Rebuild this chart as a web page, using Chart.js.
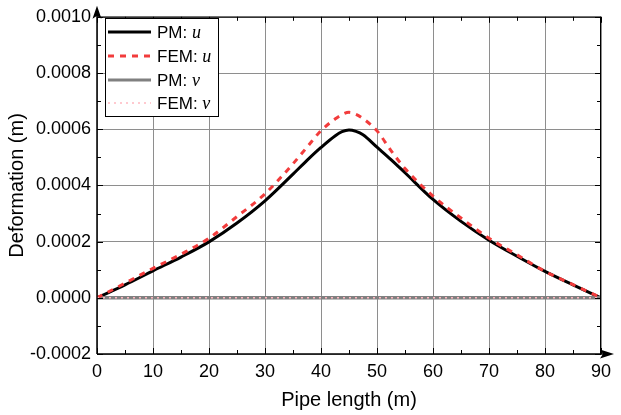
<!DOCTYPE html>
<html>
<head>
<meta charset="utf-8">
<script src="https://cdn.jsdelivr.net/npm/chart.js@4/dist/chart.umd.min.js"></script>
<style>
  html, body { margin: 0; padding: 0; background: #fff; }
  #wrap { width: 621px; height: 415px; }
</style>
</head>
<body>
<div id="wrap"><canvas id="c" width="621" height="415"></canvas></div>
<script>
// Position along the pipe (m)
const positions = [0, 5, 10, 15, 20, 25, 30, 35, 37.5, 40, 42.5, 43.75, 45, 46.25, 47.5, 50, 52.5, 55, 60, 65, 70, 75, 80, 85, 90];
// Horizontal deformation u (m)
const pmU  = [0, 0.000046, 0.000096, 0.000145, 0.000199, 0.000266, 0.000345, 0.000440, 0.000489, 0.000535, 0.000576, 0.000591, 0.000597,
              0.000592, 0.000580, 0.000536, 0.000492, 0.000445, 0.000350, 0.000272, 0.000205, 0.000148, 0.000094, 0.000046, 0];
const femU = [0, 0.000052, 0.000105, 0.000155, 0.000212, 0.000289, 0.000370, 0.000477, 0.000536, 0.000595, 0.000636, 0.000652, 0.000660,
              0.000653, 0.000638, 0.000594, 0.000524, 0.000460, 0.000362, 0.000284, 0.000212, 0.000153, 0.000094, 0.000047, 0];
// Vertical deformation v (m)
const vPositions = [0, 30, 60, 90];
const pmV  = [0, 0, 0, 0];
const femV = [0, 0, 0, 0];

const xTicks = [0, 10, 20, 30, 40, 50, 60, 70, 80, 90];
const yTicks = [-0.0002, 0, 0.0002, 0.0004, 0.0006, 0.0008, 0.0010];

const seriesNames   = ['PM', 'FEM', 'PM', 'FEM'];
const seriesSymbols = ['u', 'u', 'v', 'v'];

const pts = (xs, ys) => xs.map((x, i) => ({ x: x, y: ys[i] }));

const SANS = '"Liberation Sans", Arial, sans-serif';
const SERIF = '"Liberation Serif", "Times New Roman", serif';

const lineStyles = [
  { color: '#000000', width: 3, dash: [] },
  { color: '#f23c3c', width: 3, dash: [6, 6] },
  { color: '#808080', width: 3.5, dash: [] },
  { color: '#ffb8c0', width: 1.5, dash: [2, 4] }
];

// Axes, inward ticks, frame and arrows
const framePlugin = {
  id: 'frame',
  afterDatasetsDraw(chart) {
    const { ctx, chartArea: a, scales: { x, y } } = chart;
    ctx.save();
    ctx.strokeStyle = '#000';
    // top and right frame
    ctx.lineWidth = 1;
    ctx.beginPath();
    ctx.moveTo(a.left, a.top + 0.5); ctx.lineTo(a.right, a.top + 0.5);
    ctx.moveTo(a.right - 0.5, a.top); ctx.lineTo(a.right - 0.5, a.bottom);
    ctx.stroke();
    // bottom and left axes
    ctx.lineWidth = 1.5;
    ctx.beginPath();
    ctx.moveTo(a.left, a.bottom); ctx.lineTo(a.right + 4, a.bottom);
    ctx.moveTo(a.left, a.bottom); ctx.lineTo(a.left, a.top - 4);
    ctx.stroke();
    // ticks
    ctx.lineWidth = 1;
    ctx.beginPath();
    for (let v = 0; v <= 90; v += 5) {
      const px = Math.round(x.getPixelForValue(v)) + 0.5;
      const len = v % 10 === 0 ? 6 : 4;
      ctx.moveTo(px, a.bottom); ctx.lineTo(px, a.bottom - len);
      ctx.moveTo(px, a.top); ctx.lineTo(px, a.top + len);
    }
    for (let k = -2; k <= 10; k++) {
      const py = Math.round(y.getPixelForValue(k * 0.0001)) + 0.5;
      const len = k % 2 === 0 ? 6 : 4;
      ctx.moveTo(a.left, py); ctx.lineTo(a.left + len, py);
      ctx.moveTo(a.right, py); ctx.lineTo(a.right - len, py);
    }
    ctx.stroke();
    // arrow heads
    ctx.fillStyle = '#000';
    const xa = a.left, ya = a.top;
    ctx.beginPath();
    ctx.moveTo(xa, ya - 11); ctx.lineTo(xa - 4.5, ya + 2); ctx.lineTo(xa, ya - 1); ctx.lineTo(xa + 4.5, ya + 2);
    ctx.closePath(); ctx.fill();
    const xb = a.right, yb = a.bottom;
    ctx.beginPath();
    ctx.moveTo(xb + 13, yb); ctx.lineTo(xb - 1, yb - 4.5); ctx.lineTo(xb + 2, yb); ctx.lineTo(xb - 1, yb + 4.5);
    ctx.closePath(); ctx.fill();
    ctx.restore();
  }
};

// Series key with italic symbols
const keyPlugin = {
  id: 'seriesKey',
  afterDraw(chart) {
    const { ctx } = chart;
    const bx = 105.5, by = 18.5, bw = 113, bh = 98;
    ctx.save();
    ctx.fillStyle = '#fff';
    ctx.fillRect(bx, by, bw, bh);
    ctx.strokeStyle = '#000';
    ctx.lineWidth = 1;
    ctx.strokeRect(bx, by, bw, bh);
    const rowY = [32, 56, 80, 103];
    seriesNames.forEach((name, i) => {
      const s = lineStyles[i];
      ctx.strokeStyle = s.color;
      ctx.lineWidth = Math.min(s.width, 3);
      ctx.setLineDash(s.dash);
      ctx.beginPath();
      ctx.moveTo(108, rowY[i]); ctx.lineTo(151, rowY[i]);
      ctx.stroke();
      ctx.setLineDash([]);
      ctx.fillStyle = '#000';
      ctx.textBaseline = 'middle';
      ctx.textAlign = 'left';
      ctx.font = '17px ' + SANS;
      const lead = name + ': ';
      ctx.fillText(lead, 157, rowY[i] + 1);
      const w = ctx.measureText(lead).width;
      ctx.font = 'italic 18px ' + SERIF;
      ctx.fillText(seriesSymbols[i], 157 + w, rowY[i] + 1);
    });
    ctx.restore();
  }
};

const ds = (i, xs, ys, order) => ({
  label: seriesNames[i] + ': ' + seriesSymbols[i],
  data: pts(xs, ys),
  borderColor: lineStyles[i].color,
  borderWidth: lineStyles[i].width,
  borderDash: lineStyles[i].dash,
  pointRadius: 0,
  fill: false,
  cubicInterpolationMode: 'monotone',
  order: order
});

new Chart(document.getElementById('c'), {
  type: 'line',
  data: {
    datasets: [
      ds(0, positions, pmU, 3),
      ds(1, positions, femU, 1),
      ds(2, vPositions, pmV, 2),
      ds(3, vPositions, femV, 0)
    ]
  },
  options: {
    responsive: false,
    animation: false,
    devicePixelRatio: 1,
    layout: { padding: { left: 0, right: 20, top: 14, bottom: 0 } },
    plugins: { legend: { display: false }, tooltip: { enabled: false } },
    scales: {
      x: {
        type: 'linear', min: 0, max: 90,
        afterBuildTicks: s => { s.ticks = xTicks.map(v => ({ value: v })); },
        afterFit: s => { s.height = 61; },
        grid: { color: '#8e8e8e', lineWidth: 1, drawTicks: false },
        border: { display: false },
        ticks: { color: '#000', font: { family: SANS, size: 18 }, padding: 7, maxRotation: 0, autoSkip: false,
                 callback: v => String(v) },
        title: { display: true, text: 'Pipe length (m)', color: '#000', font: { family: SANS, size: 20 },
                 padding: { top: 0, bottom: 3 } }
      },
      y: {
        type: 'linear', min: -0.0002, max: 0.0010,
        afterBuildTicks: s => { s.ticks = yTicks.map(v => ({ value: v })); },
        afterFit: s => { s.width = 97; },
        grid: { color: '#8e8e8e', lineWidth: 1, drawTicks: false },
        border: { display: false },
        ticks: { color: '#000', font: { family: SANS, size: 18 }, padding: 6, autoSkip: false,
                 callback: v => Number(v).toFixed(4) },
        title: { display: true, text: 'Deformation (m)', color: '#000', font: { family: SANS, size: 20 },
                 padding: { top: 5, bottom: 0 } }
      }
    }
  },
  plugins: [framePlugin, keyPlugin]
});
</script>
</body>
</html>
